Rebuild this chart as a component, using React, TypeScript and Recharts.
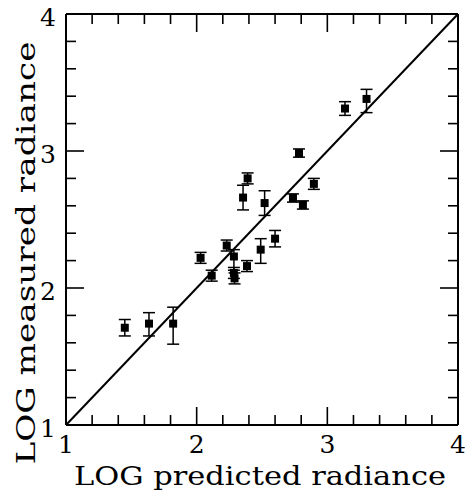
import { ScatterChart, Scatter, XAxis, YAxis, ZAxis, ErrorBar, ReferenceLine } from "recharts";

// LOG predicted (x) vs LOG measured (y), with measured error bars [below, above]
const predicted = [1.45, 1.635, 1.82, 2.03, 2.115, 2.23, 2.285, 2.285, 2.29, 2.385, 2.355, 2.39, 2.49, 2.52, 2.6, 2.737, 2.813, 2.783, 2.897, 3.135, 3.3];
const measured = [1.71, 1.74, 1.74, 2.22, 2.09, 2.31, 2.23, 2.11, 2.07, 2.16, 2.66, 2.8, 2.28, 2.62, 2.36, 2.657, 2.606, 2.985, 2.76, 3.31, 3.38];
const errBelow = [0.06, 0.09, 0.15, 0.04, 0.04, 0.04, 0.1, 0.04, 0.04, 0.04, 0.09, 0.04, 0.1, 0.09, 0.06, 0.03, 0.03, 0.03, 0.04, 0.05, 0.1];
const errAbove = [0.06, 0.08, 0.12, 0.04, 0.04, 0.04, 0.05, 0.04, 0.04, 0.04, 0.09, 0.04, 0.08, 0.09, 0.06, 0.03, 0.03, 0.03, 0.04, 0.05, 0.07];

const axisTicks = [1, 1.2, 1.4, 1.6, 1.8, 2, 2.2, 2.4, 2.6, 2.8, 3, 3.2, 3.4, 3.6, 3.8, 4];

const LO = 1;
const HI = 4;

const data = predicted.map((x, i) => ({
  x,
  y: measured[i],
  err: [errBelow[i], errAbove[i]],
}));

// frame tick marks, one entry per side per tick value
const frameTicks = axisTicks.flatMap((v) => [
  { x: v, y: LO, side: "b", v },
  { x: v, y: HI, side: "t", v },
  { x: LO, y: v, side: "l", v },
  { x: HI, y: v, side: "r", v },
]);

const isMajor = (v: number) => Math.abs(v - Math.round(v)) < 1e-6;
const tickPx = (v: number) => (isMajor(v) ? 18 : 10);
const numFont = "'DejaVu Serif', serif";
const labelFont = "'DejaVu Serif', serif";

function TickMark(props: any) {
  const { cx, cy, payload } = props;
  const len = tickPx(payload.v);
  let d = "";
  if (payload.side === "b") d = `M${cx},${cy}V${cy - len}`;
  if (payload.side === "t") d = `M${cx},${cy}V${cy + len}`;
  if (payload.side === "l") d = `M${cx},${cy}H${cx + len}`;
  if (payload.side === "r") d = `M${cx},${cy}H${cx - len}`;
  return <path d={d} stroke="black" strokeWidth={1.6} fill="none" />;
}

function xTick(props: any) {
  const { x, y, payload } = props;
  const v = payload.value;
  if (!isMajor(v)) return <g />;
  return (
    <text x={x} y={Number(y) + 28} textAnchor="middle" fontFamily={numFont} fontSize={25} fill="black">
      {Math.round(v)}
    </text>
  );
}

function yTick(props: any) {
  const { x, y, payload } = props;
  const v = payload.value;
  if (!isMajor(v)) return <g />;
  return (
    <text x={Number(x) - 10} y={Number(y) + 11.5} textAnchor="end" fontFamily={numFont} fontSize={25} fill="black">
      {Math.round(v)}
    </text>
  );
}

export default function App() {
  return (
    <div style={{ position: "absolute", left: 0, top: 0, background: "#fff" }}>
      <ScatterChart width={465} height={493} margin={{ top: 14, right: 7, bottom: 0, left: 0 }}>
        <XAxis
          type="number"
          dataKey="x"
          domain={[LO, HI]}
          ticks={axisTicks}
          interval={0}
          height={68}
          tickSize={0}
          tickMargin={0}
          tickLine={false}
          axisLine={{ stroke: "black", strokeWidth: 2 }}
          tick={xTick}
        />
        <YAxis
          type="number"
          dataKey="y"
          domain={[LO, HI]}
          ticks={axisTicks}
          interval={0}
          width={66}
          tickSize={0}
          tickMargin={0}
          tickLine={false}
          axisLine={{ stroke: "black", strokeWidth: 2 }}
          tick={yTick}
        />
        <ZAxis range={[72, 72]} />
        <ReferenceLine y={HI} stroke="black" strokeWidth={2} />
        <ReferenceLine x={HI} stroke="black" strokeWidth={2} />
        <ReferenceLine segment={[{ x: LO, y: LO }, { x: HI, y: HI }]} stroke="black" strokeWidth={2} />
        <Scatter data={frameTicks} shape={TickMark} isAnimationActive={false} />
        <Scatter data={data} fill="black" shape="square" isAnimationActive={false}>
          <ErrorBar dataKey="err" direction="y" width={6} stroke="black" strokeWidth={1.5} isAnimationActive={false} />
        </Scatter>
        <text
          x={260}
          y={485}
          textAnchor="middle"
          fontFamily={labelFont}
          fontSize={26}
          fill="black"
          textLength={372}
          lengthAdjust="spacingAndGlyphs"
        >
          LOG predicted radiance
        </text>
        <text
          transform="translate(35, 253) rotate(-90)"
          textAnchor="middle"
          fontFamily={labelFont}
          fontSize={26}
          fill="black"
          textLength={423}
          lengthAdjust="spacingAndGlyphs"
        >
          LOG measured radiance
        </text>
      </ScatterChart>
    </div>
  );
}
